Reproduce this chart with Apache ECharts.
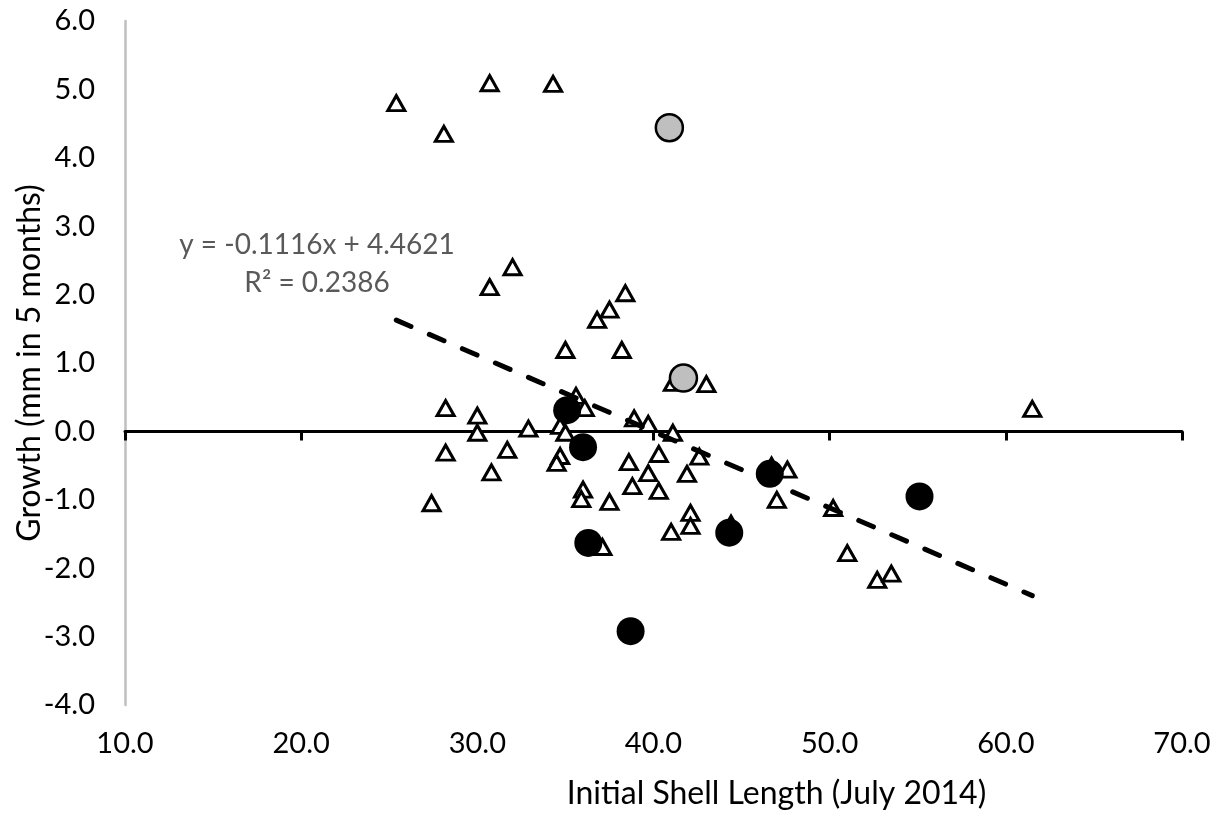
<!DOCTYPE html>
<html>
<head>
<meta charset="utf-8">
<script src="https://cdn.jsdelivr.net/npm/echarts@6/dist/echarts.min.js"></script>
<style>
  html, body { margin: 0; padding: 0; background: #fff; }
  #chart { width: 1217px; height: 816px; }
</style>
</head>
<body>
<div id="chart"></div>
<script>
// open triangles: [initial length, growth]
var triangles = [
  [25.4, 4.80], [28.1, 4.35], [30.7, 5.09], [34.3, 5.08],
  [30.7, 2.11], [32.0, 2.40], [38.4, 2.02], [37.5, 1.78], [36.8, 1.63],
  [35.0, 1.19], [38.2, 1.19], [41.1, 0.71], [43.0, 0.69],
  [28.2, 0.34], [30.0, 0.23], [30.0, -0.02], [32.9, 0.04],
  [35.6, 0.52], [36.1, 0.34], [34.7, 0.08], [35.0, -0.02],
  [38.9, 0.19], [39.7, 0.11], [41.1, -0.02],
  [28.2, -0.31], [31.7, -0.27], [30.8, -0.60], [27.4, -1.05],
  [34.7, -0.36], [34.5, -0.46], [36.0, -0.85], [35.9, -0.99], [37.5, -1.03],
  [38.6, -0.45], [38.8, -0.80], [39.7, -0.61], [40.3, -0.33], [40.3, -0.87],
  [41.9, -0.62], [42.6, -0.37], [42.1, -1.19], [42.1, -1.38], [41.0, -1.47],
  [37.1, -1.69], [44.4, -1.35],
  [61.5, 0.33], [46.7, -0.50], [47.6, -0.56], [47.0, -1.00], [50.2, -1.12],
  [51.0, -1.78], [52.7, -2.17], [53.5, -2.08]
];
var blackDots = [
  [35.1, 0.31], [36.0, -0.23], [36.3, -1.63], [38.7, -2.92],
  [44.3, -1.48], [46.6, -0.62], [55.1, -0.95]
];
var grayDots = [[40.9, 4.44], [41.7, 0.78]];

// linear trendline as printed on the chart
var slope = -0.1116, intercept = 4.4621;
var trendLabel = ['y = -0.1116x + 4.4621', 'R\u00b2 = 0.2386'];

var xs = triangles.map(function(p) { return p[0]; });
var x0 = Math.min.apply(null, xs), x1 = Math.max.apply(null, xs);
var trend = [[x0, slope * x0 + intercept], [x1, slope * x1 + intercept]];

var font = 'Lato';
var chart = echarts.init(document.getElementById('chart'));

var option = {
  animation: false,
  textStyle: { fontFamily: font },
  grid: { left: 125, right: 35, top: 21, bottom: 111, outerBoundsMode: 'none', containLabel: false },
  xAxis: [{
    type: 'value', min: 10, max: 70, interval: 10,
    position: 'bottom',
    axisLine: { onZero: true, lineStyle: { color: '#000', width: 3 } },
    axisTick: { show: true, length: 9, lineStyle: { color: '#000', width: 3 } },
    axisLabel: { show: false },
    splitLine: { show: false }
  }, {
    type: 'value', min: 10, max: 70, interval: 10,
    position: 'bottom',
    axisLine: { show: false, onZero: false },
    axisTick: { show: false },
    splitLine: { show: false },
    axisLabel: {
      margin: 24, color: '#000', fontSize: 29, fontFamily: font,
      formatter: function(v) { return v.toFixed(1); }
    },
    name: 'Initial Shell Length (July 2014)',
    nameLocation: 'middle', nameGap: 73, nameMoveOverlap: false,
    nameTextStyle: { color: '#000', fontSize: 32, fontFamily: font, padding: [0, 0, 0, 246] }
  }],
  yAxis: {
    type: 'value', min: -4, max: 6, interval: 1,
    axisLine: { show: true, onZero: false, lineStyle: { color: '#bfbfbf', width: 2.5 } },
    axisTick: { show: false },
    splitLine: { show: false },
    axisLabel: {
      margin: 30, color: '#000', fontSize: 29, fontFamily: font,
      formatter: function(v) { return v.toFixed(1); }
    },
    name: 'Growth (mm in 5 months)',
    nameLocation: 'middle', nameGap: 79, nameRotate: 90, nameMoveOverlap: false,
    nameTextStyle: { color: '#000', fontSize: 32, fontFamily: font }
  },
  graphic: [{
    type: 'text', x: 317, y: 245,
    style: { text: trendLabel[0], fill: '#595959', font: '28px ' + font, textAlign: 'center', textVerticalAlign: 'middle' }
  }, {
    type: 'text', x: 317, y: 283,
    style: { text: trendLabel[1], fill: '#595959', font: '28px ' + font, textAlign: 'center', textVerticalAlign: 'middle' }
  }],
  series: [{
    type: 'scatter', data: triangles, symbol: 'triangle', symbolSize: [17, 15],
    itemStyle: { color: '#fff', borderColor: '#000', borderWidth: 3, opacity: 1 },
    z: 2
  }, {
    type: 'scatter', data: blackDots, symbol: 'circle', symbolSize: 28,
    itemStyle: { color: '#000', opacity: 1 },
    z: 3
  }, {
    type: 'scatter', data: grayDots, symbol: 'circle', symbolSize: 27,
    itemStyle: { color: '#bfbfbf', borderColor: '#000', borderWidth: 2.5, opacity: 1 },
    z: 3
  }, {
    type: 'line', data: trend, symbol: 'none',
    lineStyle: { color: '#000', width: 5, type: [16, 20], cap: 'round' },
    z: 4
  }]
};
chart.setOption(option);
</script>
</body>
</html>
